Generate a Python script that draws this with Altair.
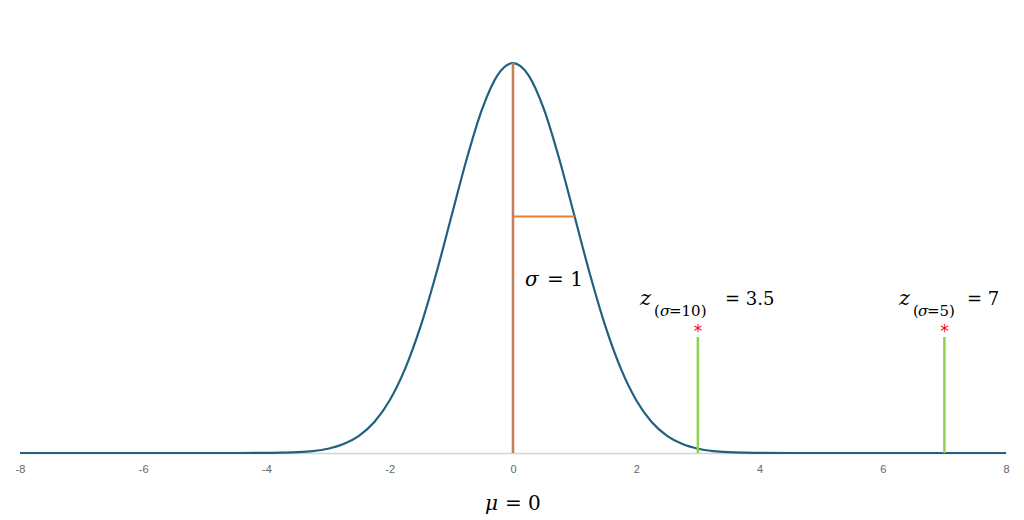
import altair as alt
import pandas as pd

# Curve (density of the standard normal)
curve_x = [-8, -7, -6, -5, -4.5, -4, -3.75, -3.5, -3.25, -3, -2.75, -2.5, -2.25, -2, -1.75, -1.5,
           -1.25, -1, -0.75, -0.5, -0.25, 0, 0.25, 0.5, 0.75, 1, 1.25, 1.5, 1.75, 2, 2.25, 2.5,
           2.75, 3, 3.25, 3.5, 3.75, 4, 4.5, 5, 6, 7, 8]
curve_y = [0, 0, 0, 0, 0.00002, 0.0001, 0.0004, 0.0009, 0.0020, 0.0044, 0.0091, 0.0175, 0.0317,
           0.0540, 0.0863, 0.1295, 0.1826, 0.2420, 0.3011, 0.3521, 0.3867, 0.3989, 0.3867, 0.3521,
           0.3011, 0.2420, 0.1826, 0.1295, 0.0863, 0.0540, 0.0317, 0.0175, 0.0091, 0.0044, 0.0020,
           0.0009, 0.0004, 0.0001, 0.00002, 0, 0, 0, 0]

mean_x = [0]
mean_top = [0.3989]
sigma_x0 = [0]
sigma_x1 = [1]
sigma_y = [0.2420]
marker_x = [3, 7]
marker_top = [0.1187] * 2
tick_values = [-8, -6, -4, -2, 0, 2, 4, 6, 8]

# Annotation pieces: text, left x, baseline y, size, italic
ann_text = ["σ", "= 1",
            "z", "(", "σ", "=10)", "= 3.5",
            "z", "(", "σ", "=5)", "= 7",
            "μ", "= 0"]
ann_x = [0.195, 0.552,
         2.061, 2.288, 2.385, 2.531, 3.440,
         6.264, 6.491, 6.572, 6.718, 7.367,
         -0.454, -0.130]
ann_y = [0.1709, 0.1709,
         0.1519, 0.1397, 0.1397, 0.1397, 0.1519,
         0.1519, 0.1397, 0.1397, 0.1397, 0.1519,
         -0.0583, -0.0583]
ann_size = [20, 20,
            21, 15, 15, 15, 18,
            21, 15, 15, 15, 18,
            20, 20]
ann_italic = [True, False,
              True, False, True, False, False,
              True, False, True, False, False,
              True, False]

curve_df = pd.DataFrame({"x": curve_x, "y": curve_y})
mean_df = pd.DataFrame({"x": mean_x, "y0": [0], "y1": mean_top})
sigma_df = pd.DataFrame({"x0": sigma_x0, "x1": sigma_x1, "y": sigma_y})
marker_df = pd.DataFrame({"x": marker_x, "y0": [0, 0], "y1": marker_top, "star": ["*", "*"]})
ann_df = pd.DataFrame({"text": ann_text, "x": ann_x, "y": ann_y, "size": ann_size,
                       "italic": ann_italic})

xscale = alt.Scale(domain=[-8, 8], nice=False, zero=False)
yscale = alt.Scale(domain=[0, 0.4553], nice=False, zero=False)

X = alt.X("x:Q", scale=xscale,
          axis=alt.Axis(values=tick_values, title=None, ticks=False, grid=False,
                        labelPadding=10, labelColor="#666666", labelFontSize=11,
                        labelFont="Liberation Sans", domainColor="#d4d4d4",
                        domainWidth=1.5, labelFlush=False,
                        labelExpr="'' + datum.value"))
Y = alt.Y("y:Q", scale=yscale, axis=None)

curve = alt.Chart(curve_df).mark_line(
    color="#21617f", strokeWidth=2.2, interpolate="monotone"
).encode(x=X, y=Y)

mean_rule = alt.Chart(mean_df).mark_rule(color="#d48259", strokeWidth=2.6).encode(
    x=alt.X("x:Q", scale=xscale), y=alt.Y("y0:Q", scale=yscale), y2="y1:Q")
mean_core = alt.Chart(mean_df).mark_rule(color="#a0806f", strokeWidth=0.8).encode(
    x=alt.X("x:Q", scale=xscale), y=alt.Y("y0:Q", scale=yscale), y2="y1:Q")

sigma_rule = alt.Chart(sigma_df).mark_rule(color="#ed7d31", strokeWidth=2).encode(
    x=alt.X("x0:Q", scale=xscale), x2="x1:Q", y=alt.Y("y:Q", scale=yscale))

marker_rule = alt.Chart(marker_df).mark_rule(color="#92d050", strokeWidth=2.5).encode(
    x=alt.X("x:Q", scale=xscale), y=alt.Y("y0:Q", scale=yscale), y2="y1:Q")

stars = alt.Chart(marker_df).mark_text(
    color="#ff0000", font="DejaVu Sans", fontSize=17, align="center", baseline="alphabetic"
).encode(x=alt.X("x:Q", scale=xscale), y=alt.Y("y1:Q", scale=yscale), text="star:N")


def ann_layer(italic, size):
    sub = ann_df[(ann_df["italic"] == italic) & (ann_df["size"] == size)]
    return alt.Chart(sub).mark_text(
        font="DejaVu Serif", fontSize=size, fontStyle="italic" if italic else "normal",
        align="left", baseline="alphabetic", color="#000000"
    ).encode(x=alt.X("x:Q", scale=xscale), y=alt.Y("y:Q", scale=yscale), text="text:N")


ann_layers = []
for it in (True, False):
    for s in sorted(set(ann_df[ann_df["italic"] == it]["size"])):
        ann_layers.append(ann_layer(it, int(s)))

chart = alt.layer(curve, mean_rule, mean_core, sigma_rule, marker_rule, stars,
                  *ann_layers).properties(
    width=986, height=445,
    autosize=alt.AutoSizeParams(type="none"),
    padding={"left": 12, "top": 0, "right": 10, "bottom": 70},
    background="#ffffff",
).configure_view(stroke="transparent", strokeWidth=0)

chart.save("out.html", embed_options={"renderer": "svg", "actions": False})
